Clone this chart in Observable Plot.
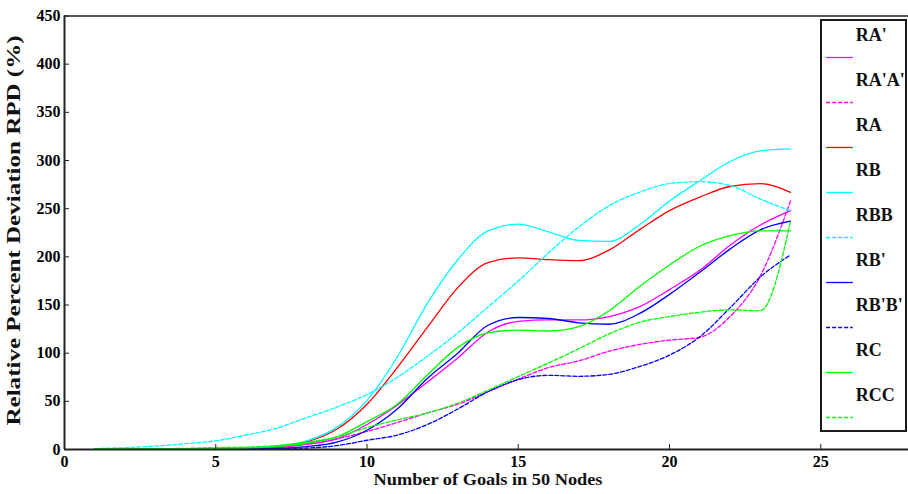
<!DOCTYPE html>
<html>
<head>
<meta charset="utf-8">
<script src="https://cdn.jsdelivr.net/npm/d3@7"></script>
<script src="https://cdn.jsdelivr.net/npm/@observablehq/plot@0.6"></script>
<style>
  html, body { margin: 0; padding: 0; background: #fff; }
  #wrap { position: relative; width: 908px; height: 494px; overflow: hidden; }
  #legend { position: absolute; left: 820px; top: 19px; width: 87px; height: 413px; box-sizing: border-box;
            border: 2px solid #1a1a1a; background: #fff; }
  svg text { font-family: "Liberation Serif", "DejaVu Serif", serif; font-weight: bold; }
</style>
</head>
<body>
<div id="wrap"><div id="chart"></div><div id="legend"></div></div>
<script>
// Number of goals (x axis)
const goals = [1,2,3,4,5,6,7,8,9,10,11,12,13,14,15,16,17,18,19,20,21,22,23,24];

// Relative Percent Deviation RPD (%) per series
const RA1   = [0.5,0.5,0.6,0.7,1,1.5,2,5.5,11,26,46,70,95,122,133,134.5,134.5,138,148,166,186,212,233,248];      // RA'
const RA1A1 = [0.5,0.5,0.7,0.9,1.2,1.8,2.5,5.5,11,18.7,28,38,47,60,73,85,92,102,109,113.5,116.5,138,180,258];   // RA'A'
const RA    = [0.5,0.5,0.6,0.8,1,1.5,3,8,21,47,85,127,168,194,199,197,196,207,228,248,262,273,276,267];           // RA
const RB    = [0.5,0.5,0.6,0.8,1.2,2,3.5,9,23,51,96,152,197,227,234,226,217,216,233,258,279,299,310,312];        // RB
const RBB   = [1,2,3.5,6,9,15,22,33,44,57,75,97,121,148,175,204,231,253,267,276,278,274,260,248];                // RBB
const RB1   = [0.3,0.3,0.4,0.5,0.6,0.8,1.2,3,7.6,20,42,74,100,129,137,136,131.5,130,141,161,184,208,228,237];    // RB'
const RB1B1 = [0.2,0.2,0.3,0.3,0.4,0.5,0.8,1.5,4,9.6,15,26,42,60,72.5,77,76,78,86,98,117,147,179,202];          // RB'B'
const RC    = [0.5,0.5,0.6,0.8,1,1.5,3,6.5,13,29,47,77.6,106,121,124,123,127.5,144,169,191.6,211,222,227,227];   // RC
const RCC   = [0.5,0.6,0.8,1.2,2,2.5,4,7.6,13,22.7,30.7,38,48,61.5,75.7,89.8,104.6,120,132,138,142.5,145,144,237]; // RCC

const seriesNames  = ["RA'", "RA'A'", "RA", "RB", "RBB", "RB'", "RB'B'", "RC", "RCC"];
const seriesValues = [RA1, RA1A1, RA, RB, RBB, RB1, RB1B1, RC, RCC];
const seriesColors = ["#ff00ff", "#ff00ff", "#ff0000", "#00ffff", "#00ffff", "#0000ff", "#0000ff", "#00ff00", "#00ff00"];
const seriesDashed = [false, true, false, false, true, false, true, false, true];

const xTicks = [0, 5, 10, 15, 20, 25];
const yTicks = [0, 50, 100, 150, 200, 250, 300, 350, 400, 450];
const xTitle = "Number of Goals in 50 Nodes";
const yTitle = "Relative Percent Deviation RPD (%)";

const series = seriesNames.map((name, i) => ({
  name, color: seriesColors[i], dashed: seriesDashed[i],
  rows: goals.map((g, j) => ({x: g, y: seriesValues[i][j]}))
}));

const lineMarks = series.map(s => Plot.line(s.rows, {
  x: "x", y: "y", stroke: s.color, strokeWidth: 1.3,
  strokeDasharray: s.dashed ? "4,2" : null, curve: "monotone-x"
}));

const chart = Plot.plot({
  width: 908, height: 494,
  marginLeft: 64, marginRight: 0, marginTop: 15.5, marginBottom: 45,
  x: {domain: [0, 27.9]},
  y: {domain: [0, 450]},
  style: {background: "#fff", color: "#000", fontSize: "16px"},
  marks: [
    ...lineMarks,
    Plot.axisX(xTicks, {tickSize: 0, tickPadding: 6, label: null, fontSize: 16, fontWeight: "bold"}),
    Plot.axisX(xTicks, {tickSize: 5, dy: -5, text: null, label: null, stroke: "#222"}),
    Plot.axisY(yTicks, {tickSize: 0, tickPadding: 4, label: null, fontSize: 16, fontWeight: "bold"}),
    Plot.axisY(yTicks, {tickSize: 5, dx: 5, text: null, label: null, stroke: "#222"}),
    Plot.ruleY([0], {stroke: "#222", strokeWidth: 2}),
    Plot.ruleX([0], {stroke: "#222", strokeWidth: 2}),
    Plot.ruleY([450], {stroke: "#222", strokeWidth: 1.5}),
    Plot.text([xTitle], {text: d => d, frameAnchor: "bottom-left", dx: 309, dy: 35, textAnchor: "start", fontSize: 17, fontWeight: "bold", fill: "#111", className: "xtitle"}),
    Plot.text([yTitle], {text: d => d, frameAnchor: "bottom-left", dx: -45, dy: -24, textAnchor: "start", rotate: -90, fontSize: 18, fontWeight: "bold", fill: "#111", className: "ytitle"})
  ]
});
document.getElementById("chart").appendChild(chart);
// stretch titles to the reference's lengths
chart.querySelectorAll(".xtitle text").forEach(t => { t.setAttribute("textLength", 229); t.setAttribute("lengthAdjust", "spacingAndGlyphs"); });
chart.querySelectorAll(".ytitle text").forEach(t => { t.setAttribute("textLength", 390); t.setAttribute("lengthAdjust", "spacingAndGlyphs"); });

// Legend
const legend = Plot.plot({
  width: 83, height: 409,
  marginLeft: 0, marginRight: 0, marginTop: 0, marginBottom: 0,
  x: {domain: [0, 1], axis: null},
  y: {type: "point", domain: seriesNames, range: [34.7, 396.3], padding: 0, axis: null},
  style: {background: "#fff", color: "#000"},
  marks: [
    ...series.map(s => Plot.ruleY([s.name], {x1: 0.05, x2: 0.37, stroke: s.color, strokeWidth: 1.3, strokeDasharray: s.dashed ? "4,2" : null})),
    Plot.text(series, {y: "name", x: 0.4, dy: -22.4, text: "name", textAnchor: "start", fontSize: 18, fontWeight: "bold", fill: "#111"})
  ]
});
document.getElementById("legend").appendChild(legend);
</script>
</body>
</html>
